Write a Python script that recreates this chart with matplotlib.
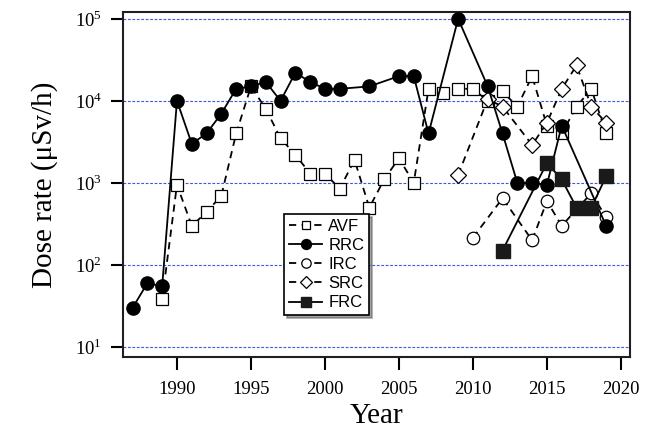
import numpy as np
import matplotlib
matplotlib.use('Agg')
import matplotlib.pyplot as plt
from matplotlib.ticker import LogLocator, FuncFormatter, NullLocator

plt.rcParams['font.family'] = ['Liberation Serif', 'DejaVu Serif']
plt.rcParams['mathtext.fontset'] = 'custom'
plt.rcParams['mathtext.rm'] = 'Liberation Serif'

# data
avf_year = [1989, 1990, 1991, 1992, 1993, 1994, 1995, 1996, 1997, 1998, 1999, 2000,
            2001, 2002, 2003, 2004, 2005, 2006, 2007, 2008, 2009, 2010, 2011, 2012,
            2013, 2014, 2015, 2016, 2017, 2018, 2019]
avf_dose = [38, 950, 300, 440, 700, 4000, 15000, 8000, 3500, 2200, 1300, 1300,
            850, 1900, 500, 1100, 2000, 1000, 14000, 12500, 14000, 14000, 10000, 13000,
            8500, 20000, 5000, 4000, 8500, 14000, 4000]

rrc_year = [1987, 1988, 1989, 1990, 1991, 1992, 1993, 1994, 1995, 1996, 1997, 1998,
            1999, 2000, 2001, 2003, 2005, 2006, 2007, 2009, 2011, 2012, 2013, 2014,
            2015, 2016, 2019]
rrc_dose = [30, 60, 55, 10000, 3000, 4000, 7000, 14000, 15000, 17000, 10000, 22000,
            17000, 14000, 14000, 15000, 20000, 20000, 4000, 100000, 15000, 4000, 1000, 1000,
            950, 5000, 300]

irc_year = [2010, 2012, 2014, 2015, 2016, 2018, 2019]
irc_dose = [215, 650, 200, 600, 300, 750, 380]

src_year = [2009, 2011, 2012, 2014, 2015, 2016, 2017, 2018, 2019]
src_dose = [1250, 10500, 8500, 2900, 5400, 14000, 27000, 8500, 5400]

frc_year = [2012, 2015, 2016, 2017, 2018, 2019]
frc_dose = [150, 1750, 1100, 500, 500, 1200]

fig = plt.figure(figsize=(6.54, 4.37), dpi=100)
ax = fig.add_axes([0.188, 0.183, 0.775, 0.79])

ms = 9.5
ax.plot(avf_year, avf_dose, ls=(0, (4, 3)), c='k', lw=1.3, marker='s', ms=ms - 1,
        mfc='white', mec='k', mew=0.9, label='AVF', zorder=3)
ax.plot(rrc_year, rrc_dose, ls='-', c='k', lw=1.3, marker='o', ms=ms,
        mfc='k', mec='k', label='RRC', zorder=4)
ax.plot(irc_year, irc_dose, ls=(0, (4, 3)), c='k', lw=1.3, marker='o', ms=ms - 0.5,
        mfc='white', mec='k', mew=0.9, label='IRC', zorder=3)
ax.plot(src_year, src_dose, ls=(0, (4, 3)), c='k', lw=1.3, marker='D', ms=ms - 1.5,
        mfc='white', mec='k', mew=0.9, label='SRC', zorder=3)
ax.plot(frc_year, frc_dose, ls='-', c='k', lw=1.3, marker='s', ms=ms,
        mfc='#1a1a1a', mec='#1a1a1a', label='FRC', zorder=4)

ax.set_yscale('log')
ax.set_xlim(1986.35, 2020.6)
ax.set_ylim(10 ** 0.878, 10 ** 5.085)
ax.set_xticks([1990, 1995, 2000, 2005, 2010, 2015, 2020])
ax.yaxis.set_major_locator(LogLocator(base=10, numticks=10))
ax.yaxis.set_minor_locator(NullLocator())
ax.yaxis.set_major_formatter(FuncFormatter(lambda v, p: r'$10^{%d}$' % round(np.log10(v))))

ax.grid(axis='y', which='major', ls=(0, (2.5, 1.5)), color='#3a5ad8', lw=0.8)
ax.tick_params(direction='out', length=9, width=1.5, labelsize=13.5)
ax.tick_params(axis='x', pad=8)
ax.tick_params(axis='y', pad=6)
for s in ax.spines.values():
    s.set_linewidth(1.5)
    s.set_color('#231f20')

ax.set_xlabel('Year', fontsize=21, labelpad=4)
ax.set_ylabel('Dose rate (\u03bcSv/h)', fontsize=21, labelpad=12)

leg = ax.legend(loc='upper left', bbox_to_anchor=(0.318, 0.415), frameon=True,
                fancybox=False, shadow=True, edgecolor='k', framealpha=1,
                prop={'family': 'Liberation Sans', 'size': 12},
                handlelength=2.0, handletextpad=0.35, labelspacing=0.25,
                borderpad=0.3, borderaxespad=0, markerscale=0.75)
leg.get_frame().set_linewidth(1.2)

fig.savefig('out.png', dpi=100)
